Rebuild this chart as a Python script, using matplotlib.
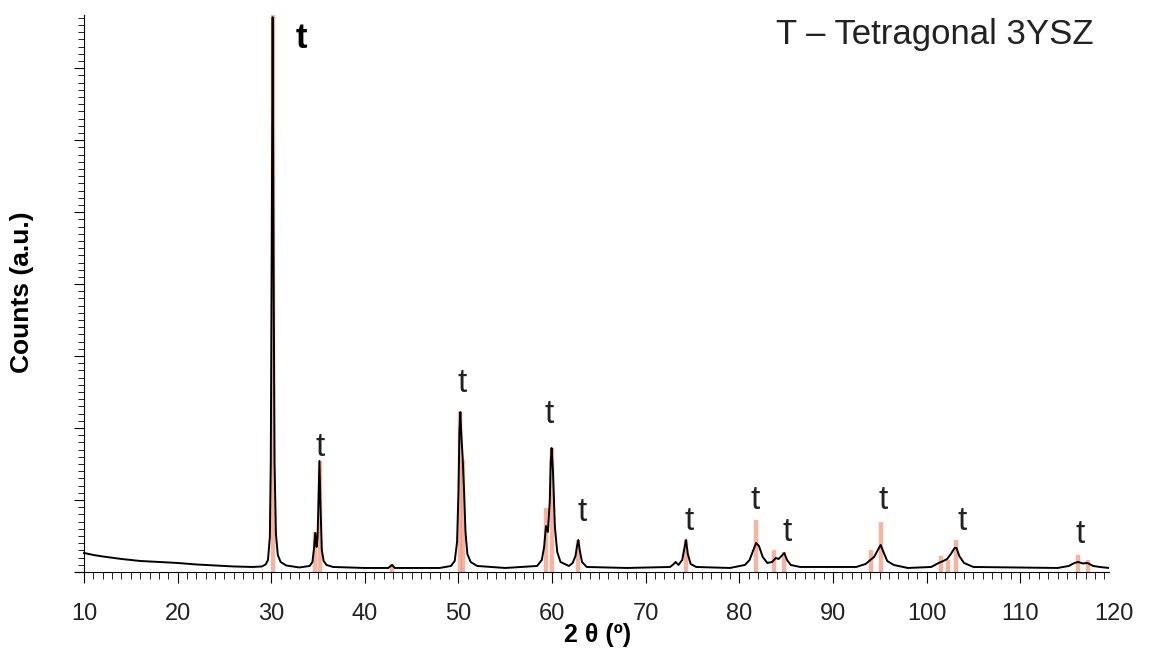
import matplotlib.pyplot as plt
from matplotlib.ticker import MultipleLocator

plt.rcParams['font.family'] = ['Liberation Sans', 'DejaVu Sans']

# measured XRD trace, 2theta (deg) vs counts (a.u.)
two_theta = [10.0, 11.0, 12.0, 14.0, 16.0, 18.0, 20.0, 22.0, 24.0, 26.0, 28.0,
             29.0, 29.4, 29.65, 29.85, 29.95, 30.05, 30.15, 30.25, 30.35, 30.5,
             30.7, 31.0, 31.6, 33.0,
             34.1, 34.4, 34.55, 34.7, 34.85, 34.95, 35.05, 35.15, 35.25, 35.4,
             35.6, 35.9, 36.6, 40.0,
             42.5, 42.9, 43.2, 48.0,
             49.2, 49.6, 49.85, 50.0, 50.1, 50.2, 50.32, 50.45, 50.6, 50.75,
             50.95, 51.3, 52.0, 55.0,
             58.4, 58.9, 59.15, 59.35, 59.55, 59.75, 59.85, 59.95, 60.1, 60.3,
             60.55, 60.9, 61.8,
             62.2, 62.5, 62.65, 62.8, 62.95, 63.2, 63.7, 68.0,
             72.6, 73.0, 73.2, 73.5, 73.9, 74.1, 74.3, 74.5, 74.8, 75.4, 79.0,
             80.6, 81.1, 81.5, 81.8, 82.1, 82.5, 83.0, 83.5, 83.9, 84.2,
             84.6, 84.8, 85.1, 85.5, 86.5,
             92.5, 93.5, 94.0, 94.4, 94.8, 95.1, 95.4, 95.8, 96.5, 98.0,
             100.5, 101.3, 101.8, 102.2, 102.6, 103.0, 103.2, 103.5, 104.0,
             105.0, 114.0, 115.2, 115.8, 116.2, 116.7, 117.2, 117.8, 118.5,
             119.5]
counts = [19, 17, 15.5, 13, 11, 10, 9, 7.5, 6.5, 5.5, 5,
          5.5, 7.5, 12, 35, 110, 320, 555, 310, 110, 38,
          17, 10, 6.5, 4.5,
          6, 10, 22, 39, 25, 35, 75, 111, 70, 22,
          11, 7, 5, 4,
          4, 7, 4, 4,
          6, 11, 30, 80, 140, 160, 135, 114, 80, 40,
          18, 10, 6, 4,
          6, 12, 25, 46, 40, 70, 110, 124, 100, 45,
          20, 10, 6,
          9, 16, 25, 32, 22, 10, 5, 4,
          5, 8, 10, 7, 12, 22, 32, 18, 8, 5, 4,
          7, 12, 22, 29, 26, 15, 9, 10, 14, 13,
          17, 19, 12, 7, 5,
          5, 8, 12, 15, 22, 27, 20, 11, 7, 4,
          5, 9, 11, 13, 18, 24, 24, 16, 9,
          5, 4, 6, 9, 10, 8.5, 9, 6, 5,
          4]

# reference pattern sticks (tetragonal 3YSZ)
ref_pos = [30.15, 34.7, 35.2, 42.9, 50.15, 50.45, 59.3, 60.0, 62.75, 74.3,
           81.8, 83.7, 84.8, 94.1, 95.1, 101.5, 102.3, 103.1, 116.2, 117.3]
ref_int = [557, 40, 111, 8, 160, 112, 64, 124, 32, 32,
           52, 22, 20, 22, 50, 16, 12, 32, 17, 12]

# "t" peak labels
t_x = [35.2, 50.4, 59.7, 63.2, 74.6, 81.7, 85.1, 95.4, 103.8, 116.4]
t_y = [125, 189, 158, 59, 50, 72, 39, 72, 50, 37]

fig = plt.figure(figsize=(11.56, 6.62), dpi=100)
ax = fig.add_axes([0.0654, 0.136, 0.894, 0.841])

ax.vlines(ref_pos, 0, ref_int, color='#f28c6e', alpha=0.65, linewidth=3.2, zorder=1)
ax.plot(two_theta, counts, color='black', linewidth=1.4, zorder=2)

for x, y in zip(t_x, t_y):
    ax.text(x, y, 't', fontsize=24, ha='center', va='center', color='#222222')
ax.text(33.2, 534, 't', fontsize=25, fontweight='bold', ha='center', va='center')
ax.text(0.985, 0.995, 'T \u2013 Tetragonal 3YSZ', fontsize=25, ha='right', va='top',
        transform=ax.transAxes, color='#222222')

ax.set_xlim(9.1, 119.5)
ax.set_ylim(0, 557)
for s in ['top', 'right']:
    ax.spines[s].set_visible(False)
ax.spines['left'].set_position(('data', 10))

ax.set_xticks(range(10, 120, 10))
ax.xaxis.set_minor_locator(MultipleLocator(1))
ax.tick_params(axis='x', which='major', length=8, labelsize=17, pad=14, labelcolor='#222222')
ax.tick_params(axis='x', which='minor', length=5)
ax.annotate('120', xy=(120, 0), xycoords=('data', 'axes fraction'), xytext=(0, -38),
            textcoords='offset points', ha='center', va='bottom', fontsize=17,
            color='#222222', annotation_clip=False)

ax.yaxis.set_major_locator(MultipleLocator(72))
ax.yaxis.set_minor_locator(MultipleLocator(7.2))
ax.set_yticklabels([])
ax.tick_params(axis='y', which='major', length=7)
ax.tick_params(axis='y', which='minor', length=4)

fig.text(0.019, 0.559, 'Counts (a.u.)', rotation=90, fontsize=19, fontweight='bold',
         ha='center', va='center')
fig.text(0.517, 0.041, '2 \u03b8 (\u00ba)', fontsize=18, fontweight='bold',
         ha='center', va='center')

fig.savefig('out.png', dpi=100)
